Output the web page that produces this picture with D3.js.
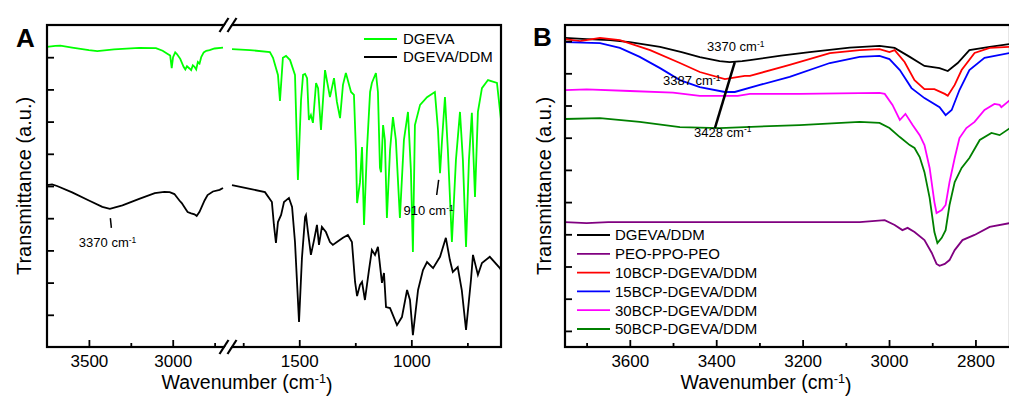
<!DOCTYPE html>
<html>
<head>
<meta charset="utf-8">
<script src="https://cdn.jsdelivr.net/npm/d3@7"></script>
<style>
body { margin: 0; background: #fff; }
text { font-family: Arial, "Liberation Sans", sans-serif; fill: #000; }
</style>
</head>
<body>
<script>
var width = 1009;
var height = 396;

// ---- panel A data: [wavenumber cm-1, transmittance a.u.] ----
var dgeva = [
  [3750, 9.32], [3700, 9.35], [3670, 9.36], [3600, 9.3], [3500, 9.22], [3450, 9.19], [3350, 9.24],
  [3200, 9.29], [3100, 9.28], [3060, 9.2], [3030, 9.1], [3015, 9.05], [3006, 8.66], [2998, 9.0],
  [2985, 9.15], [2975, 9.1], [2955, 8.95], [2935, 8.7], [2925, 8.62], [2915, 8.72], [2900, 8.65],
  [2890, 8.6], [2880, 8.75], [2870, 8.7], [2860, 8.62], [2850, 8.85], [2840, 8.8], [2830, 9.0],
  [2815, 9.15], [2800, 9.2], [2780, 9.22], [2750, 9.27], [2700, 9.3],
  [1800, 9.25], [1720, 9.22], [1631, 9.16], [1617, 8.98], [1595, 8.45], [1586, 7.64], [1573, 8.98],
  [1559, 9.04], [1541, 8.91], [1519, 8.45], [1506, 5.19], [1492, 7.67], [1483, 8.45], [1474, 8.48],
  [1465, 8.35], [1457, 7.05], [1448, 7.2], [1439, 6.96], [1425, 8.2], [1416, 8.04], [1403, 6.74],
  [1385, 8.6], [1363, 7.76], [1345, 8.35], [1332, 7.61], [1318, 7.11], [1305, 8.14], [1292, 8.51],
  [1269, 7.92], [1256, 7.83], [1247, 6.06], [1242, 4.47], [1229, 5.12], [1220, 6.21], [1211, 3.79],
  [1198, 6.12], [1184, 7.92], [1176, 8.2], [1158, 8.51], [1149, 7.92], [1140, 5.56], [1135, 5.43],
  [1126, 6.89], [1118, 6.43], [1109, 4.01], [1095, 6.12], [1082, 7.14], [1069, 6.43], [1051, 4.01],
  [1033, 6.43], [1015, 7.3], [1002, 5.5], [993, 2.95], [984, 6.89], [961, 7.52], [930, 7.76],
  [895, 7.92], [881, 6.74], [872, 5.4], [863, 6.43], [850, 7.76], [837, 6.12], [819, 3.26],
  [801, 5.81], [783, 7.3], [770, 5.81], [756, 3.11], [743, 5.81], [730, 7.27], [716, 4.66],
  [703, 7.3], [685, 8.04], [658, 8.29], [618, 8.2], [600, 7.05]
];
var dgevaDdm = [
  [3750, 5.03], [3720, 5.05], [3690, 5.0], [3600, 4.8], [3500, 4.55], [3420, 4.35], [3375, 4.29],
  [3300, 4.4], [3200, 4.6], [3107, 4.78], [3050, 4.82], [3018, 4.81], [2990, 4.75], [2960, 4.55],
  [2946, 4.47], [2925, 4.3], [2911, 4.19], [2890, 4.15], [2870, 4.12], [2857, 4.07], [2840, 4.2],
  [2827, 4.35], [2810, 4.55], [2792, 4.72], [2760, 4.83], [2720, 4.88], [2700, 4.94],
  [1800, 5.03], [1720, 4.91], [1653, 4.81], [1622, 4.5], [1613, 3.79], [1604, 3.23], [1595, 3.88],
  [1581, 4.1], [1568, 4.5], [1546, 4.63], [1532, 4.35], [1519, 3.26], [1501, 0.78], [1488, 2.76],
  [1474, 4.04], [1470, 4.1], [1461, 3.57], [1448, 2.86], [1434, 3.32], [1421, 3.79], [1412, 3.17],
  [1399, 3.73], [1381, 3.57], [1363, 3.26], [1350, 3.17], [1332, 3.26], [1305, 3.39], [1283, 3.48],
  [1265, 3.26], [1251, 2.02], [1242, 1.58], [1229, 1.93], [1220, 2.02], [1207, 1.46], [1189, 2.39],
  [1176, 3.01], [1162, 2.86], [1149, 3.11], [1131, 1.99], [1122, 2.3], [1113, 1.24], [1095, 1.21],
  [1064, 0.68], [1042, 0.93], [1019, 1.77], [1006, 1.46], [993, 0.37], [970, 1.77], [948, 2.39],
  [930, 2.64], [903, 2.45], [872, 2.8], [846, 3.39], [828, 2.7], [815, 2.33], [793, 2.48],
  [775, 1.77], [756, 0.53], [734, 2.08], [725, 2.86], [703, 2.24], [685, 2.61], [650, 2.8],
  [605, 2.45], [600, 2.39]
];

// ---- panel B data ----
var bDgevaDdm = [
  [3750, 10.1], [3700, 10.06], [3646, 10.03], [3600, 9.97], [3530, 9.82], [3480, 9.66], [3438, 9.5],
  [3392, 9.38], [3369, 9.35], [3340, 9.38], [3322, 9.41], [3250, 9.55], [3184, 9.66], [3091, 9.8],
  [3022, 9.85], [2987, 9.79], [2952, 9.51], [2918, 9.23], [2883, 9.16], [2864, 9.07], [2841, 9.32],
  [2814, 9.72], [2767, 9.82], [2720, 9.91]
];
var bPeo = [
  [3750, 4.38], [3700, 4.35], [3650, 4.38], [3500, 4.38], [3300, 4.38], [3068, 4.38], [3010, 4.44],
  [2987, 4.29], [2969, 4.13], [2957, 4.2], [2941, 4.07], [2918, 3.82], [2901, 3.42], [2890, 3.08],
  [2883, 3.02], [2871, 3.08], [2860, 3.2], [2848, 3.51], [2830, 3.82], [2802, 3.98], [2767, 4.23],
  [2720, 4.35]
];
var b10 = [
  [3750, 10.06], [3715, 10.0], [3669, 10.1], [3623, 10.03], [3553, 9.72], [3484, 9.32], [3438, 9.04],
  [3380, 8.82], [3334, 8.92], [3322, 8.92], [3230, 9.26], [3137, 9.63], [3068, 9.72], [3022, 9.75],
  [2999, 9.66], [2987, 9.72], [2964, 9.35], [2941, 8.79], [2918, 8.51], [2895, 8.51], [2871, 8.36],
  [2864, 8.3], [2848, 8.64], [2832, 9.1], [2802, 9.63], [2767, 9.79], [2720, 9.82]
];
var b15 = [
  [3750, 9.97], [3669, 9.94], [3623, 9.79], [3577, 9.51], [3530, 9.16], [3484, 8.79], [3438, 8.57],
  [3380, 8.42], [3357, 8.42], [3299, 8.64], [3230, 8.89], [3137, 9.32], [3068, 9.51], [3022, 9.54],
  [2999, 9.44], [2975, 9.1], [2948, 8.54], [2918, 8.23], [2883, 7.95], [2869, 7.7], [2855, 7.86],
  [2837, 8.48], [2814, 9.1], [2779, 9.48], [2720, 9.63]
];
var b30 = [
  [3750, 8.48], [3700, 8.5], [3600, 8.45], [3500, 8.4], [3438, 8.3], [3350, 8.3], [3322, 8.36],
  [3207, 8.36], [3022, 8.39], [3010, 8.36], [2992, 8.02], [2975, 7.55], [2962, 7.74], [2945, 7.39],
  [2929, 7.08], [2918, 6.77], [2906, 6.06], [2895, 5.0], [2890, 4.66], [2878, 4.75], [2869, 4.91],
  [2860, 5.62], [2848, 6.37], [2837, 6.99], [2821, 7.3], [2802, 7.49], [2779, 7.86], [2756, 8.05],
  [2744, 8.02], [2740, 7.95], [2720, 8.17]
];
var b50 = [
  [3750, 7.58], [3669, 7.61], [3577, 7.49], [3484, 7.33], [3392, 7.3], [3334, 7.33], [3207, 7.39],
  [3068, 7.49], [3022, 7.46], [2999, 7.3], [2975, 7.02], [2952, 6.77], [2941, 6.68], [2929, 6.4],
  [2918, 5.93], [2906, 5.13], [2895, 4.07], [2888, 3.73], [2878, 3.89], [2869, 4.13], [2860, 4.91],
  [2848, 5.62], [2832, 6.06], [2814, 6.37], [2790, 6.93], [2763, 7.15], [2744, 7.08], [2720, 7.3]
];

var namesA = ["DGEVA", "DGEVA/DDM"];
var namesB = ["DGEVA/DDM", "PEO-PPO-PEO", "10BCP-DGEVA/DDM", "15BCP-DGEVA/DDM", "30BCP-DGEVA/DDM", "50BCP-DGEVA/DDM"];

var ticksALeft = [3500, 3000], minorALeft = [3250, 2750];
var ticksARight = [1500, 1000], minorARight = [1750, 1250, 750];
var ticksB = [3600, 3400, 3200, 3000, 2800], minorB = [3700, 3500, 3300, 3100, 2900];

var seriesA = [
  { name: namesA[0], values: dgeva, color: "#00ff00" },
  { name: namesA[1], values: dgevaDdm, color: "#000000" }
];
var seriesB = [
  { name: namesB[0], values: bDgevaDdm, color: "#000000" },
  { name: namesB[1], values: bPeo, color: "#800080" },
  { name: namesB[2], values: b10, color: "#ff0000" },
  { name: namesB[3], values: b15, color: "#0000ff" },
  { name: namesB[4], values: b30, color: "#ff00ff" },
  { name: namesB[5], values: b50, color: "#008000" }
];

var svg = d3.select("body")
    .append("svg")
    .attr("width", width)
    .attr("height", height)

var fa = { left: 47, right: 501, top: 25, bottom: 347, breakL: 223, breakR: 232 }
var fb = { left: 565, right: 1010, top: 25, bottom: 347 }

var xAL = d3.scaleLinear().domain([3750, 2700]).range([fa.left, fa.breakL])
var xAR = d3.scaleLinear().domain([1800, 600]).range([fa.breakR, fa.right])
var yA = d3.scaleLinear().domain([0, 10]).range([fa.bottom, fa.top])
var xB = d3.scaleLinear().domain([3750, 2720]).range([fb.left, fb.right])
var yB = d3.scaleLinear().domain([0.5, 10.5]).range([fb.bottom, fb.top])

function styleAxis(g) {
    g.select(".domain").remove()
    g.selectAll("line").attr("stroke", "#000").attr("stroke-width", 1.8)
    g.selectAll("text").style("font-size", "17px").attr("fill", "#000")
}

function xAxis(scale, major, minor) {
    svg.append("g")
        .attr("transform", "translate(0," + fa.bottom + ")")
        .call(d3.axisBottom(scale).tickValues(major).tickSize(-7).tickPadding(8).tickFormat(d3.format("d")))
        .call(styleAxis)
    svg.append("g")
        .attr("transform", "translate(0," + fa.bottom + ")")
        .call(d3.axisBottom(scale).tickValues(minor).tickSize(-4).tickFormat(""))
        .call(styleAxis)
}

function yAxis(x, scale, ticks) {
    svg.append("g")
        .attr("transform", "translate(" + x + ",0)")
        .call(d3.axisLeft(scale).tickValues(ticks).tickSize(-7).tickFormat(""))
        .call(styleAxis)
}

function cmText(g, x, y, label, size, anchor) {
    var t = g.append("text").attr("x", x).attr("y", y).style("font-size", size + "px")
        .attr("text-anchor", anchor || "start")
    t.append("tspan").text(label)
    t.append("tspan").attr("dy", "-0.5em").style("font-size", "0.65em").text("-1")
    return t
}

// ---------- panel A ----------
var lineAL = d3.line().x(function (d) { return xAL(d[0]) }).y(function (d) { return yA(d[1]) })
var lineAR = d3.line().x(function (d) { return xAR(d[0]) }).y(function (d) { return yA(d[1]) })

seriesA.forEach(function (s) {
    svg.append("path").datum(s.values.filter(function (d) { return d[0] >= 2000 }))
        .attr("d", lineAL).attr("fill", "none").attr("stroke", s.color).attr("stroke-width", 1.8)
    svg.append("path").datum(s.values.filter(function (d) { return d[0] < 2000 }))
        .attr("d", lineAR).attr("fill", "none").attr("stroke", s.color).attr("stroke-width", 1.8)
})

xAxis(xAL, ticksALeft, minorALeft)
xAxis(xAR, ticksARight, minorARight)
yAxis(fa.left, yA, d3.range(1, 10))

svg.append("rect").attr("x", fa.left).attr("y", fa.top)
    .attr("width", fa.right - fa.left).attr("height", fa.bottom - fa.top)
    .attr("fill", "none").attr("stroke", "#000").attr("stroke-width", 2.2)

// axis break marks
var breakX = (fa.breakL + fa.breakR) / 2 + 0.5;
[fa.top, fa.bottom].forEach(function (y) {
    svg.append("polygon")
        .attr("points", [[breakX - 7, y + 6], [breakX - 1, y + 6], [breakX + 7, y - 6], [breakX + 1, y - 6]].join(" "))
        .attr("fill", "#fff")
    ;[-4, 4].forEach(function (o) {
        svg.append("line")
            .attr("x1", breakX + o - 4.5).attr("y1", y + 7)
            .attr("x2", breakX + o + 4.5).attr("y2", y - 7)
            .attr("stroke", "#000").attr("stroke-width", 2.2)
    })
})

// legend A
seriesA.forEach(function (s, i) {
    var y = 39 + i * 18
    svg.append("line").attr("x1", 364).attr("x2", 397).attr("y1", y).attr("y2", y)
        .attr("stroke", s.color).attr("stroke-width", 1.8)
    svg.append("text").attr("x", 403).attr("y", y).attr("dy", "0.36em")
        .style("font-size", "15px").text(s.name)
})

// annotations A
svg.append("line").attr("x1", xAL(3372)).attr("x2", xAL(3366)).attr("y1", yA(4.0)).attr("y2", yA(3.7))
    .attr("stroke", "#000").attr("stroke-width", 1.5)
cmText(svg, xAL(3560), yA(3.10), "3370 cm", 13)
svg.append("line").attr("x1", xAR(878)).attr("x2", xAR(887)).attr("y1", yA(5.19)).attr("y2", yA(4.72))
    .attr("stroke", "#000").attr("stroke-width", 1.5)
cmText(svg, xAR(1035), yA(4.1), "910 cm", 13)

// titles A
cmText(svg, 247, 389, "Wavenumber (cm", 19.5, "middle").append("tspan").attr("dy", "0.5em").text(")")
svg.append("text").attr("transform", "translate(31,186) rotate(-90)")
    .attr("text-anchor", "middle").style("font-size", "20px").text("Transmittance (a.u.)")
svg.append("text").attr("x", 16).attr("y", 47).style("font-size", "26px").style("font-weight", "bold").text("A")

// ---------- panel B ----------
var lineB = d3.line().x(function (d) { return xB(d[0]) }).y(function (d) { return yB(d[1]) })

seriesB.forEach(function (s) {
    svg.append("path").datum(s.values)
        .attr("d", lineB).attr("fill", "none").attr("stroke", s.color).attr("stroke-width", 1.8)
})

svg.append("g")
    .attr("transform", "translate(0," + fb.bottom + ")")
    .call(d3.axisBottom(xB).tickValues(ticksB).tickSize(-7).tickPadding(8).tickFormat(d3.format("d")))
    .call(styleAxis)
svg.append("g")
    .attr("transform", "translate(0," + fb.bottom + ")")
    .call(d3.axisBottom(xB).tickValues(minorB).tickSize(-4).tickFormat(""))
    .call(styleAxis)
yAxis(fb.left, yB, d3.range(1, 11))

svg.append("rect").attr("x", fb.left).attr("y", fb.top)
    .attr("width", fb.right - fb.left).attr("height", fb.bottom - fb.top)
    .attr("fill", "none").attr("stroke", "#000").attr("stroke-width", 2.2)

// legend B
seriesB.forEach(function (s, i) {
    var y = 235 + i * 18.8
    svg.append("line").attr("x1", 577).attr("x2", 610).attr("y1", y).attr("y2", y)
        .attr("stroke", s.color).attr("stroke-width", 1.8)
    svg.append("text").attr("x", 615).attr("y", y).attr("dy", "0.36em")
        .style("font-size", "15px").text(s.name)
})

// annotations B
svg.append("line").attr("x1", xB(3357)).attr("x2", xB(3403)).attr("y1", yB(9.35)).attr("y2", yB(7.30))
    .attr("stroke", "#000").attr("stroke-width", 2.5)
cmText(svg, 707, yB(10.1) + 13, "3370 cm", 13)
cmText(svg, 663, yB(8.6) - 1, "3387 cm", 13)
cmText(svg, 694, yB(7.0) - 1, "3428 cm", 13)

// titles B
cmText(svg, 766, 389, "Wavenumber (cm", 19.5, "middle").append("tspan").attr("dy", "0.5em").text(")")
svg.append("text").attr("transform", "translate(551,186) rotate(-90)")
    .attr("text-anchor", "middle").style("font-size", "20px").text("Transmittance (a.u.)")
svg.append("text").attr("x", 533).attr("y", 46).style("font-size", "26px").style("font-weight", "bold").text("B")
</script>
</body>
</html>
